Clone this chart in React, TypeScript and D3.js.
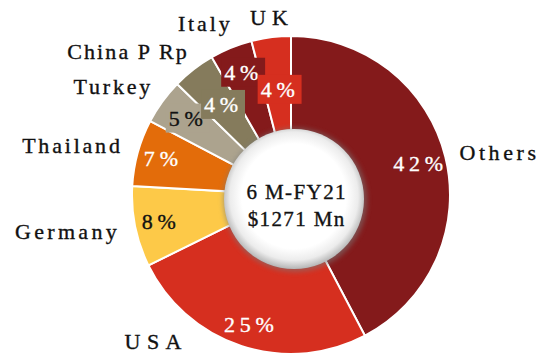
import React, { useEffect, useRef } from "react";
import * as d3 from "d3";

// Export share by destination, 6M-FY21 (percent of total)
const categories = ["Others", "USA", "Germany", "Thailand", "Turkey", "China P Rp", "Italy", "UK"];
const shares = [42.3, 25.4, 8.2, 6.8, 4.6, 4.4, 4.3, 4.0];
const centerLines = ["6 M-FY21", "$1271 Mn"];

// Styling
const sliceColors = ["#841a1b", "#d62f1f", "#fdc948", "#e36c0a", "#aca38e", "#857b5c", "#841a1b", "#d62f1f"];
const valueTextColors = ["#fff", "#fff", "#111", "#fff", "#111", "#fff", "#fff", "#fff"];
const boxedValue = [false, false, false, false, true, true, true, true];

// Layout: radius of each value label, polar placement (deg, radius) and tracking of each name label
const valueLabelRadius = [131, 136, 135, 135, 130, 114, 132, 106];
const nameLabelPolar: [number, number][] = [
  [78.5, 211],
  [223.2, 201.6],
  [260.9, 228],
  [282.8, 225.6],
  [301.3, 209.6],
  [311.2, 218],
  [333, 192],
  [352.9, 178.4],
];
const nameTracking = [3.6, 6.5, 3.3, 2.8, 2.8, 2.1, 2.9, 6];

const FONT = "'Liberation Serif', 'Times New Roman', serif";

export default function App() {
  const ref = useRef<SVGSVGElement>(null);

  useEffect(() => {
    const W = 540;
    const H = 354;
    const cx = 291;
    const cy = 195;
    const rOuter = 159;
    const rInner = 60;
    const hubR = 70;
    const hubDx = 3;
    const hubDy = 4;
    const nameSize = 22;
    const valueSize = 22;
    const valueTracking = 4.8;
    const centerSize = 21;
    const centerTracking = 1.4;
    const weight = 0.35;

    const svg = d3.select(ref.current!);
    svg.selectAll("*").remove();
    svg.attr("width", W).attr("height", H).attr("viewBox", `0 0 ${W} ${H}`);

    const defs = svg.append("defs");
    const grad = defs
      .append("radialGradient")
      .attr("id", "hubFill")
      .attr("cx", "50%")
      .attr("cy", "48%")
      .attr("r", "52%");
    grad.append("stop").attr("offset", "0%").attr("stop-color", "#ffffff");
    grad.append("stop").attr("offset", "72%").attr("stop-color", "#ffffff");
    grad.append("stop").attr("offset", "88%").attr("stop-color", "#ececec");
    grad.append("stop").attr("offset", "100%").attr("stop-color", "#b5b5b5");

    const blur = defs
      .append("filter")
      .attr("id", "hubShadow")
      .attr("x", "-30%")
      .attr("y", "-30%")
      .attr("width", "160%")
      .attr("height", "160%");
    blur.append("feGaussianBlur").attr("stdDeviation", 2.5);

    const pie = d3
      .pie<number>()
      .sort(null)
      .value((d) => d)
      .startAngle(0)
      .endAngle(2 * Math.PI);
    const arcs = pie(shares);
    const arc = d3
      .arc<d3.PieArcDatum<number>>()
      .innerRadius(rInner)
      .outerRadius(rOuter);

    const polar = (angle: number, r: number): [number, number] => [
      r * Math.sin(angle),
      -r * Math.cos(angle),
    ];

    const g = svg.append("g").attr("transform", `translate(${cx},${cy})`);

    g.selectAll("path.slice")
      .data(arcs)
      .join("path")
      .attr("class", "slice")
      .attr("d", arc)
      .attr("fill", (_, i) => sliceColors[i])
      .attr("stroke", "#ffffff")
      .attr("stroke-width", 2);

    // Center hub with soft shadow
    g.append("circle")
      .attr("cx", hubDx + 1)
      .attr("cy", hubDy + 1)
      .attr("r", hubR + 2)
      .attr("fill", "#7a7a7a")
      .attr("opacity", 0.55)
      .attr("filter", "url(#hubShadow)");
    g.append("circle")
      .attr("cx", hubDx)
      .attr("cy", hubDy)
      .attr("r", hubR)
      .attr("fill", "url(#hubFill)");

    g.selectAll("text.center")
      .data(centerLines)
      .join("text")
      .attr("class", "center")
      .attr("x", hubDx + 2 + centerTracking / 2)
      .attr("y", (_, i) => hubDy - 7 + i * 27)
      .attr("text-anchor", "middle")
      .attr("dominant-baseline", "central")
      .attr("font-family", FONT)
      .attr("font-size", centerSize)
      .attr("letter-spacing", centerTracking)
      .attr("fill", "#111")
      .attr("stroke", "#111")
      .attr("stroke-width", weight)
      .text((d) => d);

    // Value labels
    const valueG = g.append("g");
    arcs.forEach((a, i) => {
      const mid = (a.startAngle + a.endAngle) / 2;
      const [x, y] = polar(mid, valueLabelRadius[i]);
      const lg = valueG.append("g").attr("transform", `translate(${x},${y})`);
      const rect = lg.append("rect").attr("fill", sliceColors[i]);
      const t = lg
        .append("text")
        .attr("x", valueTracking / 2)
        .attr("text-anchor", "middle")
        .attr("dominant-baseline", "central")
        .attr("font-family", FONT)
        .attr("font-size", valueSize)
        .attr("letter-spacing", valueTracking)
        .attr("fill", valueTextColors[i])
        .attr("stroke", valueTextColors[i])
        .attr("stroke-width", weight)
        .text(`${Math.round(shares[i])}%`);
      if (boxedValue[i]) {
        const bb = (t.node() as SVGTextElement).getBBox();
        rect
          .attr("x", bb.x - 3)
          .attr("y", -15)
          .attr("width", bb.width + 5)
          .attr("height", 29);
      } else {
        rect.remove();
      }
    });

    // Category name labels
    g.selectAll("text.name")
      .data(categories)
      .join("text")
      .attr("class", "name")
      .attr("x", (_, i) => polar((nameLabelPolar[i][0] * Math.PI) / 180, nameLabelPolar[i][1])[0] + nameTracking[i] / 2)
      .attr("y", (_, i) => polar((nameLabelPolar[i][0] * Math.PI) / 180, nameLabelPolar[i][1])[1])
      .attr("text-anchor", "middle")
      .attr("dominant-baseline", "central")
      .attr("font-family", FONT)
      .attr("font-size", nameSize)
      .attr("letter-spacing", (_, i) => nameTracking[i])
      .attr("fill", "#111")
      .attr("stroke", "#111")
      .attr("stroke-width", weight)
      .text((d) => d);
  }, []);

  return (
    <svg
      ref={ref}
      width={540}
      height={354}
      style={{ position: "absolute", left: 0, top: 0, background: "#fff" }}
    />
  );
}
